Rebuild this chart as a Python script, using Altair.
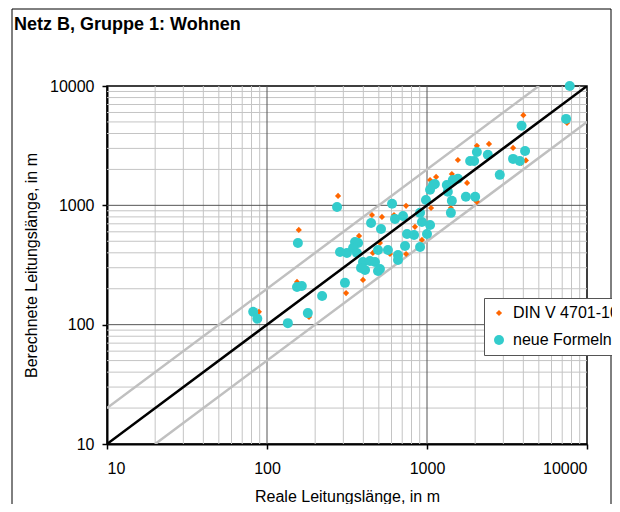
import altair as alt
import pandas as pd

# ---- data ----
din_x = [7500, 4000, 3450, 3900, 4150, 2440, 2050, 1560, 1780, 2000, 1430, 1140, 1045, 1060,
         740, 523, 453, 622, 376, 508, 841, 930, 740, 587, 459, 398, 312, 278, 158, 154, 183,
         89, 1410, 2050]
din_y = [4900, 5700, 3030, 2270, 2380, 3270, 3150, 2400, 1540, 1110, 1830, 1730, 1630, 950,
         990, 800, 830, 830, 554, 484, 660, 513, 391, 391, 399, 237, 184, 1200, 622, 228, 116,
         128, 950, 1070]

neu_x = [7800, 7400, 3900, 4100, 3450, 3800, 2850, 2400, 2050, 1970, 1860, 1450, 1560, 1330,
         1120, 1045, 1090, 1350, 1430, 1750, 2000, 985, 1410, 905, 605, 447, 516, 631, 708, 930,
         1045, 750, 830, 1000, 905, 729, 659, 570, 494, 659, 371, 316, 286, 355, 345, 365, 398,
         440, 473, 410, 494, 387, 307, 274, 156, 154, 165, 221, 180, 135, 82, 87, 508]
neu_y = [10000, 5300, 4650, 2850, 2450, 2350, 1800, 2650, 2800, 2350, 2350, 1630, 1670, 1480,
         1510, 1350, 1480, 1300, 1090, 1180, 1180, 1110, 865, 865, 1030, 712, 634, 770, 815, 725,
         685, 576, 565, 576, 448, 457, 384, 423, 423, 349, 484, 399, 407, 493, 439, 399, 335,
         342, 335, 287, 282, 299, 224, 970, 484, 207, 211, 174, 125, 103, 128, 112, 293]

series = ["DIN V 4701-10", "neue Formeln"]
colors = ["#FF6600", "#33CCCC"]
shapes = ["diamond", "circle"]
sizes = [38, 100]

major_ticks = [10, 100, 1000, 10000]
inner_major = [100, 1000]
minor_ticks = [20, 30, 40, 50, 60, 70, 80, 90,
               200, 300, 400, 500, 600, 700, 800, 900,
               2000, 3000, 4000, 5000, 6000, 7000, 8000, 9000]

diag_x = [10, 10000]
diag_y = [10, 10000]
upper_x = [10, 5000]
upper_y = [20, 10000]
lower_x = [20, 10000]
lower_y = [10, 5000]

chart_title = "Netz B, Gruppe 1: Wohnen"
x_title = "Reale Leitungslänge, in m"
y_title = "Berechnete Leitungslänge, in m"

F = "Liberation Sans"

# ---- tables ----
pts = pd.concat([
    pd.DataFrame({"x": din_x, "y": din_y, "serie": series[0]}),
    pd.DataFrame({"x": neu_x, "y": neu_y, "serie": series[1]}),
], ignore_index=True)

xs = alt.Scale(type="log", domain=[10, 10000], nice=False)
ys = alt.Scale(type="log", domain=[10, 10000], nice=False)

xaxis = alt.Axis(values=major_ticks, format="d", grid=False, domainColor="black", domainWidth=2,
                 tickColor="black", tickSize=5, tickWidth=1.5, labelFont=F, labelFontSize=16,
                 labelColor="black", labelPadding=11, title=x_title, titleFont=F,
                 titleFontSize=16, titleFontWeight="normal", titleColor="black", titlePadding=12)
yaxis = alt.Axis(values=major_ticks, format="d", grid=False, domainColor="black", domainWidth=2,
                 tickColor="black", tickSize=5, tickWidth=1.5, labelFont=F, labelFontSize=16,
                 labelColor="black", labelPadding=8, title=y_title, titleFont=F,
                 titleFontSize=16, titleFontWeight="normal", titleColor="black", titlePadding=10)

X = lambda: alt.X("x:Q", scale=xs, axis=xaxis)
Y = lambda: alt.Y("y:Q", scale=ys, axis=yaxis)

minor_v = alt.Chart(pd.DataFrame({"x": minor_ticks})).mark_rule(
    color="#c4c4c4", strokeWidth=1).encode(x=X())
minor_h = alt.Chart(pd.DataFrame({"y": minor_ticks})).mark_rule(
    color="#c4c4c4", strokeWidth=1).encode(y=Y())
major_v = alt.Chart(pd.DataFrame({"x": inner_major})).mark_rule(
    color="#555555", strokeWidth=1).encode(x=X())
major_h = alt.Chart(pd.DataFrame({"y": inner_major})).mark_rule(
    color="#555555", strokeWidth=1).encode(y=Y())

upper = alt.Chart(pd.DataFrame({"x": upper_x, "y": upper_y})).mark_line(
    color="#c0c0c0", strokeWidth=2.5, clip=True).encode(x=X(), y=Y())
lower = alt.Chart(pd.DataFrame({"x": lower_x, "y": lower_y})).mark_line(
    color="#c0c0c0", strokeWidth=2.5, clip=True).encode(x=X(), y=Y())
diag = alt.Chart(pd.DataFrame({"x": diag_x, "y": diag_y})).mark_line(
    color="black", strokeWidth=2.5, clip=True).encode(x=X(), y=Y())

legend = alt.Legend(title=None, orient="none", legendX=377, legendY=212, padding=7,
                    strokeColor="#555555", fillColor="white", labelFont=F, labelFontSize=16,
                    labelColor="black", rowPadding=11, labelOffset=6, symbolStrokeWidth=0)

points = alt.Chart(pts).mark_point(filled=True, opacity=1, strokeWidth=0).encode(
    x=X(), y=Y(),
    color=alt.Color("serie:N", scale=alt.Scale(domain=series, range=colors), legend=legend),
    shape=alt.Shape("serie:N", scale=alt.Scale(domain=series, range=shapes), legend=legend),
    size=alt.Size("serie:N", scale=alt.Scale(domain=series, range=sizes), legend=legend),
)

title_txt = alt.Chart(pd.DataFrame({"t": [chart_title]})).mark_text(
    font=F, fontSize=18, fontWeight="bold", align="left", baseline="middle", color="black"
).encode(text="t:N", x=alt.value(-93), y=alt.value(-61))

frame = alt.Chart(pd.DataFrame({"a": [0]})).mark_rect(
    filled=False, stroke="black", strokeWidth=1
).encode(x=alt.value(-95), x2=alt.value(504), y=alt.value(-77), y2=alt.value(440))

chart = alt.layer(
    minor_v, minor_h, major_v, major_h, upper, lower, points, diag, title_txt, frame
).properties(
    width=480, height=358,
    autosize=alt.AutoSizeParams(type="none"),
    padding={"left": 99, "top": 78, "right": 25, "bottom": 60},
    background="white",
).configure_view(stroke="black", strokeWidth=1.5)

chart.save("out.html", embed_options={"renderer": "svg", "actions": False})
